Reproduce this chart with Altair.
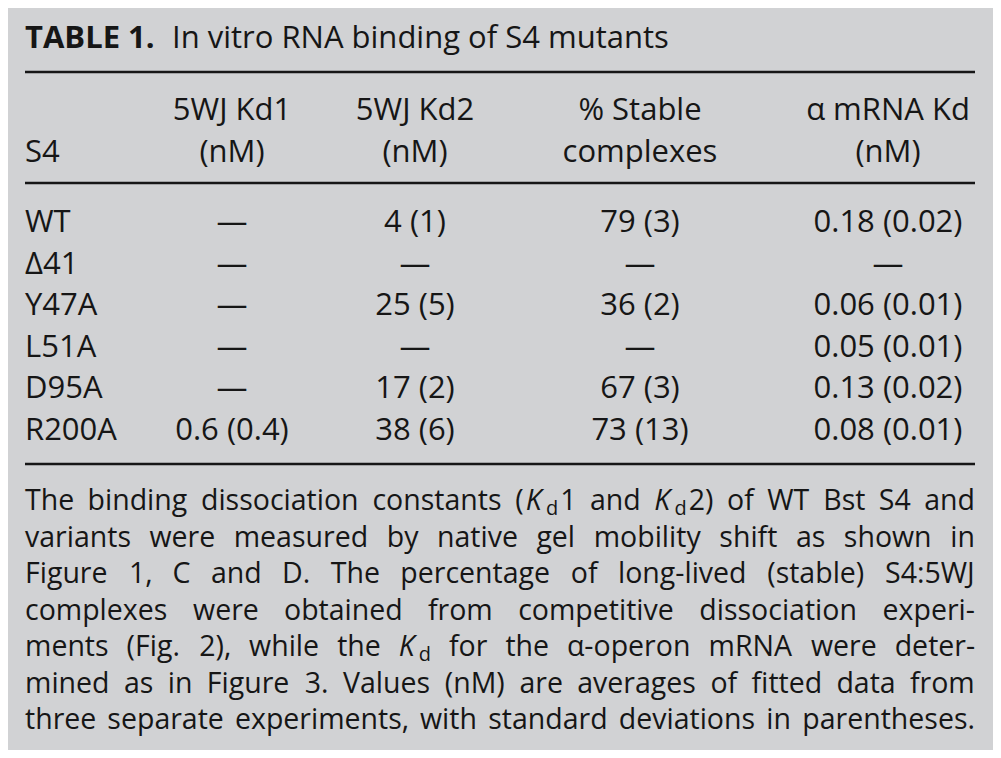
import re
import altair as alt
import pandas as pd

# ---------------- data ----------------
title_bold = "TABLE 1."
title_rest = "In vitro RNA binding of S4 mutants"

first_header = "S4"
col_keys = ["kd1", "kd2", "stable", "mrna"]
header_line1 = ["5WJ Kd1", "5WJ Kd2", "% Stable", "α mRNA Kd"]
header_line2 = ["(nM)", "(nM)", "complexes", "(nM)"]

strains = ["WT", "Δ41", "Y47A", "L51A", "D95A", "R200A"]
kd1 = ["—", "—", "—", "—", "—", "0.6 (0.4)"]
kd2 = ["4 (1)", "—", "25 (5)", "—", "17 (2)", "38 (6)"]
stable = ["79 (3)", "—", "36 (2)", "—", "67 (3)", "73 (13)"]
mrna = ["0.18 (0.02)", "—", "0.06 (0.01)", "0.05 (0.01)", "0.13 (0.02)", "0.08 (0.01)"]

# {..} = italic, [..] = subscript
footnote_lines = [
    "The binding dissociation constants ({K}[d]1 and {K}[d]2) of WT Bst S4 and",
    "variants were measured by native gel mobility shift as shown in",
    "Figure 1, C and D. The percentage of long-lived (stable) S4:5WJ",
    "complexes were obtained from competitive dissociation experi-",
    "ments (Fig. 2), while the {K}[d] for the α-operon mRNA were deter-",
    "mined as in Figure 3. Values (nM) are averages of fitted data from",
    "three separate experiments, with standard deviations in parentheses.",
]

# ---------------- layout ----------------
W, H = 985, 742
LEFT, RIGHT = 17, 967
col_centers = [224, 407, 632, 880]
FONT = "Open Sans"
INK = "#161616"
BG = "#d1d2d4"
TSIZE = 31
FSIZE = 28.5
SUB = 0.7
SEG_PAD = 2.0

# approximate advance widths (em) of Open Sans, used only to justify the footnote
CW = {" ": .26, "(": .303, ")": .303, ",": .245, "-": .322, ".": .266, ":": .266, "%": .83,
      "A": .633, "B": .648, "C": .631, "D": .729, "E": .556, "F": .549, "G": .722, "H": .738,
      "I": .26, "J": .253, "K": .639, "L": .543, "M": .895, "N": .76, "O": .779, "P": .603,
      "R": .64, "S": .55, "T": .55, "U": .731, "V": .608, "W": .944, "Y": .571,
      "a": .556, "b": .613, "c": .49, "d": .613, "e": .561, "f": .339, "g": .548, "h": .614,
      "i": .253, "j": .253, "k": .525, "l": .253, "m": .93, "n": .614, "o": .604, "p": .613,
      "q": .613, "r": .408, "s": .477, "t": .353, "u": .614, "v": .501, "w": .778, "x": .524,
      "y": .502, "z": .478, "α": .613}
for _d in "0123456789":
    CW[_d] = .572


def seg_width(text, style):
    size = FSIZE * (SUB if style == "sub" else 1.0)
    return sum(CW.get(c, .56) for c in text) * size


def parse_word(word):
    segs = []
    for m in re.finditer(r"\{(.*?)\}|\[(.*?)\]|([^{\[]+)", word):
        if m.group(1) is not None:
            segs.append((m.group(1), "italic"))
        elif m.group(2) is not None:
            segs.append((m.group(2), "sub"))
        else:
            segs.append((m.group(3), "normal"))
    return segs


def word_width(segs):
    return sum(seg_width(t, s) for t, s in segs) + SEG_PAD * (len(segs) - 1)


pieces = []
for li, line in enumerate(footnote_lines):
    words = [parse_word(w) for w in line.split(" ")]
    widths = [word_width(w) for w in words]
    n = len(words)
    gap = (RIGHT - LEFT - sum(widths)) / (n - 1)
    half = n // 2
    for k, w in enumerate(words):
        if k < half:
            x = LEFT + sum(widths[:k]) + k * gap
        else:
            x = RIGHT - sum(widths[k:]) - (n - 1 - k) * gap
        for t, s in w:
            pieces.append({"line": li, "x": x, "text": t, "style": s})
            x += seg_width(t, s) + SEG_PAD
pdf = pd.DataFrame(pieces)

values = {"kd1": kd1, "kd2": kd2, "stable": stable, "mrna": mrna}
body = pd.DataFrame({"strain": strains, **values})

row_y = alt.Y("strain:N", scale=alt.Scale(type="point", domain=strains,
                                          range=[224, 432], padding=0), axis=None)


def txt(align="center", size=TSIZE, weight="normal", **kw):
    return dict(font=FONT, fontSize=size, fontWeight=weight, color=INK,
                align=align, baseline="alphabetic", **kw)


layers = []

# title
tdf = pd.DataFrame({"t": [title_bold], "r": [title_rest]})
layers.append(alt.Chart(tdf).mark_text(**txt("left", TSIZE, "bold")).encode(
    text="t:N", x=alt.value(LEFT), y=alt.value(40)))
layers.append(alt.Chart(tdf).mark_text(**txt("left", TSIZE)).encode(
    text="r:N", x=alt.value(164), y=alt.value(40)))

# rules
rdf = pd.DataFrame({"k": [0]})
for yy in [64, 175, 456]:
    layers.append(alt.Chart(rdf).mark_rule(color=INK, strokeWidth=2.5).encode(
        x=alt.value(LEFT), x2=alt.value(RIGHT), y=alt.value(yy)))

# header
hdf = pd.DataFrame({"col": col_keys, "l1": header_line1, "l2": header_line2})
layers.append(alt.Chart(pd.DataFrame({"h": [first_header]})).mark_text(**txt("left")).encode(
    text="h:N", x=alt.value(LEFT), y=alt.value(154)))
for key, cx in zip(col_keys, col_centers):
    sub = hdf[hdf["col"] == key]
    layers.append(alt.Chart(sub).mark_text(**txt()).encode(
        text="l1:N", x=alt.value(cx), y=alt.value(112)))
    layers.append(alt.Chart(sub).mark_text(**txt()).encode(
        text="l2:N", x=alt.value(cx), y=alt.value(154)))

# body
layers.append(alt.Chart(body).mark_text(**txt("left")).encode(
    text="strain:N", x=alt.value(LEFT), y=row_y))
for key, cx in zip(col_keys, col_centers):
    layers.append(alt.Chart(body).mark_text(**txt()).encode(
        text=f"{key}:N", x=alt.value(cx), y=row_y))

# footnote, justified
foot_y = alt.Y("line:O", scale=alt.Scale(type="point", domain=list(range(len(footnote_lines))),
                                         range=[502, 721], padding=0), axis=None)
foot_x = alt.X("x:Q", scale=alt.Scale(domain=[0, W], nice=False, zero=False), axis=None)
styles = {
    "normal": txt("left", FSIZE),
    "italic": txt("left", FSIZE, fontStyle="italic"),
    "sub": txt("left", FSIZE * SUB, dy=5),
}
for st, props in styles.items():
    d = pdf[pdf["style"] == st]
    if len(d):
        layers.append(alt.Chart(d).mark_text(**props).encode(
            text="text:N", x=foot_x, y=foot_y))

chart = alt.layer(*layers).resolve_scale(y="independent").properties(
    width=W, height=H, padding=0,
    autosize=alt.AutoSizeParams(type="none"),
    background=BG,
).configure_view(stroke=None)

chart.save("out.html", embed_options={"renderer": "svg", "actions": False})
